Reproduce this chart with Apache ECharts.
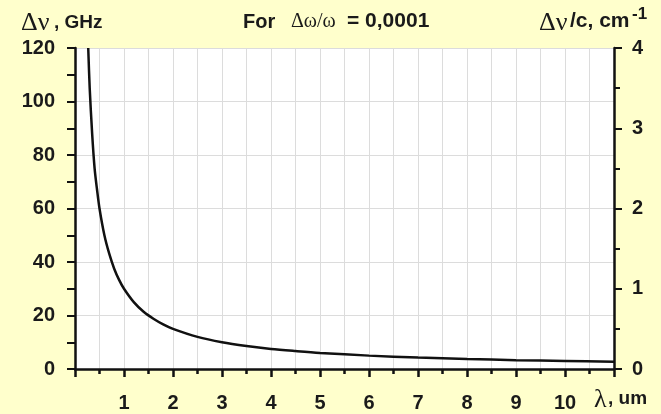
<!DOCTYPE html>
<html><head><meta charset="utf-8">
<script src="https://cdn.jsdelivr.net/npm/echarts@6/dist/echarts.min.js"></script>
<style>html,body{margin:0;padding:0;background:#FFFFCC;}#c{width:661px;height:414px;}</style>
</head><body><div id="c"></div>
<script>
// wavelength (um) and frequency width (GHz)
const lambdaUm = [0.27, 0.3, 0.35, 0.4, 0.45, 0.5, 0.6, 0.7, 0.8, 0.9, 1.0, 1.2, 1.4, 1.6, 1.8, 2.0, 2.5, 3.0, 3.5, 4.0, 4.5, 5.0, 6.0, 7.0, 8.0, 9.0, 10.0, 11.0];
const deltaNuGHz = [120, 105, 88, 75, 67, 60, 50, 43, 37.5, 33.3, 30, 25, 21.4, 18.8, 16.7, 15, 12, 10, 8.6, 7.5, 6.7, 6, 5, 4.3, 3.75, 3.3, 3.0, 2.7];
const xTickLabels = ['1','2','3','4','5','6','7','8','9','10'];
const leftTicks = [0, 20, 40, 60, 80, 100, 120];
const rightTicks = [0, 1, 2, 3, 4];

const chart = echarts.init(document.getElementById('c'), null, {renderer: 'canvas'});
const fontFam = 'Liberation Sans';
const serif = 'Liberation Serif';
const txt = '#1a1a1a';
const lbl = (size) => ({color: txt, fontFamily: fontFam, fontWeight: 'bold', fontSize: size});
const T = (text, left, top, size, fam, bold) => ({
  type: 'text', left: left, top: top,
  style: {text: text, fontFamily: fam, fontSize: size, fontWeight: bold ? 'bold' : 'normal', fill: txt}
});
chart.setOption({
  backgroundColor: '#FFFFCC',
  animation: false,
  grid: {left: 75, right: 47, top: 48, bottom: 45, show: true, backgroundColor: '#ffffff', borderWidth: 0},
  xAxis: {
    type: 'value', min: 0, max: 11, interval: 1,
    axisLine: {show: true, onZero: false, lineStyle: {color: '#111', width: 2.5}},
    axisTick: {show: true, length: 8, lineStyle: {color: '#111', width: 2.5}},
    minorTick: {show: true, splitNumber: 2, length: 5, lineStyle: {color: '#111', width: 2.5}},
    splitLine: {show: true, lineStyle: {color: '#dcdcdc', width: 1}},
    minorSplitLine: {show: true, lineStyle: {color: '#dcdcdc', width: 1}},
    axisLabel: Object.assign({margin: 24,
      formatter: v => xTickLabels.includes(String(v)) ? String(v) : ''}, lbl(20))
  },
  yAxis: [{
    type: 'value', min: 0, max: 120, interval: 20, position: 'left',
    axisLine: {show: true, lineStyle: {color: '#111', width: 2.5}},
    axisTick: {show: true, length: 8, lineStyle: {color: '#111', width: 2}},
    minorTick: {show: true, splitNumber: 2, length: 8, lineStyle: {color: '#111', width: 2}},
    splitLine: {show: true, lineStyle: {color: '#dcdcdc', width: 1}},
    axisLabel: Object.assign({margin: 20,
      formatter: v => leftTicks.includes(v) ? String(v) : ''}, lbl(20))
  }, {
    type: 'value', min: 0, max: 4, interval: 1, position: 'right',
    axisLine: {show: true, lineStyle: {color: '#111', width: 2.5}},
    axisTick: {show: true, length: 8, lineStyle: {color: '#111', width: 2}},
    minorTick: {show: true, splitNumber: 2, length: 6, lineStyle: {color: '#111', width: 2}},
    splitLine: {show: false},
    axisLabel: Object.assign({margin: 18,
      formatter: v => rightTicks.includes(v) ? String(v) : ''}, lbl(20))
  }],
  series: [{
    type: 'line', yAxisIndex: 0, smooth: 0.3, symbol: 'none',
    lineStyle: {color: '#111', width: 2.5},
    data: lambdaUm.map((x, i) => [x, deltaNuGHz[i]])
  }],
  graphic: [
    T('Δν', 21, 10, 26, serif, false),
    T(', GHz', 54, 13, 19, fontFam, true),
    T('For', 243, 12, 20, fontFam, true),
    T('Δω/ω', 291, 12, 20, serif, false),
    T('= 0,0001', 347, 11, 21, fontFam, true),
    T('Δν', 539, 10, 26, serif, false),
    T('/c, cm', 570, 11, 21, fontFam, true),
    T('-1', 632, 6, 17, fontFam, true),
    T('λ', 594, 387, 26, serif, false),
    T(', um', 608, 389, 19, fontFam, true)
  ]
});
</script></body></html>
